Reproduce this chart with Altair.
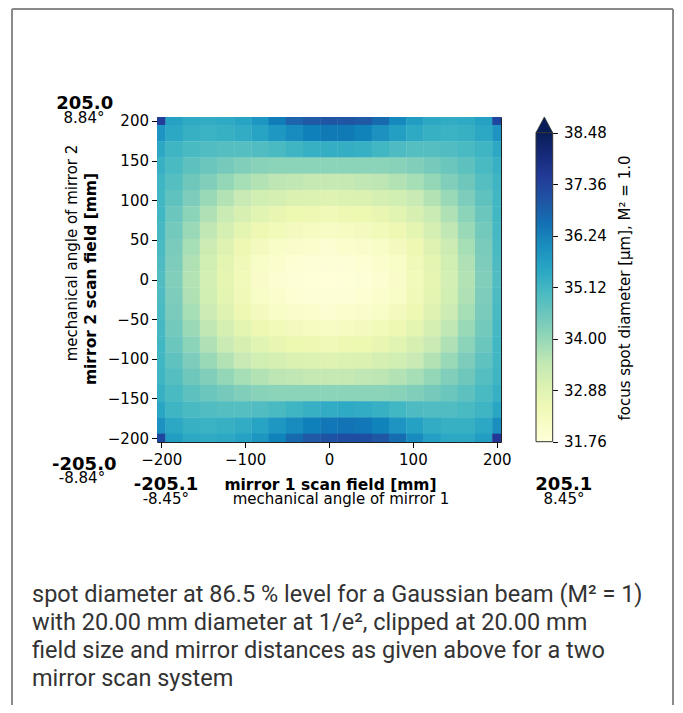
import altair as alt
import pandas as pd

# ---- data ----
x_centers = [-205.1, -184.6, -164.1, -143.6, -123.1, -102.6, -82.0, -61.5, -41.0, -20.5, 0.0,
             20.5, 41.0, 61.5, 82.0, 102.6, 123.1, 143.6, 164.1, 184.6, 205.1]
y_centers = [205.0, 184.5, 164.0, 143.5, 123.0, 102.5, 82.0, 61.5, 41.0, 20.5, 0.0,
             -20.5, -41.0, -61.5, -82.0, -102.5, -123.0, -143.5, -164.0, -184.5, -205.0]
# spot diameter [um], rows from top (y=205) to bottom (y=-205), columns from x=-205.1 to x=205.1
spot = [
    [37.5, 35.6, 35.4, 35.35, 35.4, 35.55, 35.85, 36.3, 36.7, 36.9, 37.0, 37.0, 36.9, 36.6, 36.1, 35.7, 35.45, 35.35, 35.4, 35.6, 37.3],
    [35.9, 35.45, 35.25, 35.2, 35.25, 35.35, 35.55, 35.8, 36.05, 36.25, 36.35, 36.35, 36.2, 35.95, 35.65, 35.4, 35.25, 35.2, 35.25, 35.45, 35.9],
    [35.45, 35.15, 35.0, 34.9, 34.85, 34.85, 34.9, 35.0, 35.15, 35.25, 35.3, 35.3, 35.25, 35.1, 34.95, 34.85, 34.85, 34.9, 35.0, 35.15, 35.45],
    [35.25, 35.0, 34.75, 34.55, 34.4, 34.25, 34.15, 34.1, 34.1, 34.1, 34.1, 34.1, 34.1, 34.1, 34.15, 34.25, 34.4, 34.55, 34.75, 35.0, 35.25],
    [35.15, 34.85, 34.5, 34.25, 34.0, 33.8, 33.65, 33.55, 33.5, 33.45, 33.45, 33.45, 33.5, 33.55, 33.65, 33.8, 34.0, 34.25, 34.5, 34.85, 35.15],
    [35.1, 34.7, 34.3, 33.95, 33.65, 33.4, 33.2, 33.1, 33.0, 32.95, 32.9, 32.95, 33.0, 33.1, 33.2, 33.4, 33.65, 33.95, 34.3, 34.7, 35.1],
    [35.1, 34.55, 34.1, 33.7, 33.35, 33.05, 32.85, 32.7, 32.6, 32.55, 32.5, 32.55, 32.6, 32.7, 32.85, 33.05, 33.35, 33.7, 34.1, 34.55, 35.1],
    [35.05, 34.45, 33.95, 33.5, 33.1, 32.8, 32.55, 32.4, 32.3, 32.25, 32.2, 32.25, 32.3, 32.4, 32.55, 32.8, 33.1, 33.5, 33.95, 34.45, 35.05],
    [35.0, 34.35, 33.8, 33.3, 32.9, 32.55, 32.3, 32.15, 32.05, 32.0, 31.95, 32.0, 32.05, 32.15, 32.3, 32.55, 32.9, 33.3, 33.8, 34.35, 35.0],
    [34.95, 34.3, 33.7, 33.2, 32.8, 32.45, 32.15, 32.0, 31.9, 31.85, 31.82, 31.85, 31.9, 32.0, 32.15, 32.45, 32.8, 33.2, 33.7, 34.3, 34.95],
    [34.9, 34.25, 33.65, 33.15, 32.75, 32.4, 32.1, 31.95, 31.85, 31.8, 31.78, 31.8, 31.85, 31.95, 32.1, 32.4, 32.75, 33.15, 33.65, 34.25, 34.9],
    [34.95, 34.3, 33.7, 33.2, 32.8, 32.45, 32.15, 32.0, 31.9, 31.85, 31.82, 31.85, 31.9, 32.0, 32.15, 32.45, 32.8, 33.2, 33.7, 34.3, 34.95],
    [35.0, 34.35, 33.8, 33.3, 32.9, 32.55, 32.3, 32.15, 32.05, 32.0, 31.95, 32.0, 32.05, 32.15, 32.3, 32.55, 32.9, 33.3, 33.8, 34.35, 35.0],
    [35.05, 34.45, 33.95, 33.5, 33.1, 32.8, 32.55, 32.4, 32.3, 32.25, 32.2, 32.25, 32.3, 32.4, 32.55, 32.8, 33.1, 33.5, 33.95, 34.45, 35.05],
    [35.1, 34.55, 34.1, 33.7, 33.35, 33.05, 32.85, 32.7, 32.6, 32.55, 32.5, 32.55, 32.6, 32.7, 32.85, 33.05, 33.35, 33.7, 34.1, 34.55, 35.1],
    [35.1, 34.7, 34.3, 33.95, 33.65, 33.4, 33.2, 33.1, 33.0, 32.95, 32.9, 32.95, 33.0, 33.1, 33.2, 33.4, 33.65, 33.95, 34.3, 34.7, 35.1],
    [35.15, 34.85, 34.5, 34.25, 34.0, 33.8, 33.65, 33.55, 33.5, 33.45, 33.45, 33.45, 33.5, 33.55, 33.65, 33.8, 34.0, 34.25, 34.5, 34.85, 35.15],
    [35.25, 35.0, 34.75, 34.55, 34.4, 34.25, 34.15, 34.1, 34.1, 34.1, 34.1, 34.1, 34.1, 34.1, 34.15, 34.25, 34.4, 34.55, 34.75, 35.0, 35.25],
    [35.5, 35.15, 35.0, 34.9, 34.85, 34.85, 34.9, 35.0, 35.15, 35.25, 35.35, 35.4, 35.35, 35.25, 35.1, 34.95, 34.9, 34.9, 35.0, 35.15, 35.5],
    [35.95, 35.45, 35.25, 35.2, 35.25, 35.35, 35.55, 35.8, 36.05, 36.25, 36.4, 36.45, 36.4, 36.2, 35.9, 35.6, 35.35, 35.25, 35.25, 35.45, 36.0],
    [37.3, 35.7, 35.45, 35.4, 35.45, 35.6, 35.85, 36.2, 36.6, 36.9, 37.05, 37.15, 37.15, 36.95, 36.55, 36.05, 35.65, 35.45, 35.45, 35.7, 37.6],
]
x_ticks = [-200, -100, 0, 100, 200]
y_ticks = [-200, -150, -100, -50, 0, 50, 100, 150, 200]
cbar_ticks = [31.76, 32.88, 34.00, 35.12, 36.24, 37.36, 38.48]
cbar_min, cbar_max = 31.76, 38.48
# YlGnBu colour map stops (matplotlib) spread over the colour bar range
cmap_stops = [31.76, 32.60, 33.44, 34.28, 35.12, 35.96, 36.80, 37.64, 38.48]
cmap_colors = ["#ffffd9", "#edf8b1", "#c7e9b4", "#7fcdbb", "#41b6c4",
               "#1d91c0", "#225ea8", "#253494", "#081d58"]
x_extent = [-205.1, 205.1]
y_extent = [-205.0, 205.0]
caption = [
    "spot diameter at 86.5 % level for a Gaussian beam (M\u00b2 = 1)",
    "with 20.00 mm diameter at 1/e\u00b2, clipped at 20.00  mm",
    "field size and mirror distances as given above for a two",
    "mirror scan system",
]

rows = []
for j, yc in enumerate(y_centers):
    for i, xc in enumerate(x_centers):
        rows.append({"x0": xc - 10.5, "x1": xc + 10.5, "y0": yc - 10.5, "y1": yc + 10.5, "d": spot[j][i]})
df = pd.DataFrame(rows)

FONT = "DejaVu Sans"

heat = alt.Chart(df).mark_rect(clip=True).encode(
    x=alt.X("x0:Q", scale=alt.Scale(domain=x_extent, nice=False, zero=False),
            axis=alt.Axis(values=x_ticks, title=None, labelPadding=5)),
    x2="x1:Q",
    y=alt.Y("y0:Q", scale=alt.Scale(domain=y_extent, nice=False, zero=False),
            axis=alt.Axis(values=y_ticks, title=None, labelPadding=3)),
    y2="y1:Q",
    color=alt.Color("d:Q",
                    scale=alt.Scale(domain=cmap_stops, range=cmap_colors, clamp=True),
                    legend=alt.Legend(orient="none", legendX=379, legendY=15.7, direction="vertical",
                                      gradientLength=309, gradientThickness=16.7, title=None,
                                      labelOpacity=0, padding=0,
                                      gradientStrokeColor="#333333", gradientStrokeWidth=1)),
)

cbar = alt.Chart(alt.Data(values=[{"v": cbar_max}])).mark_point(
    shape="M-1,0L0,-1.88L1,0Z", filled=True, size=279, color="#081d58",
    stroke="#333333", strokeWidth=0.8, opacity=1,
).encode(
    x=alt.value(387.35),
    y=alt.Y("v:Q", scale=alt.Scale(domain=[cbar_min, cbar_max], range=[324.7, 15.7], nice=False, zero=False),
            axis=alt.Axis(orient="right", offset=51.7, values=cbar_ticks, format=".2f", tickSize=4.7,
                          labelPadding=6, title=None, labelAlign="left")),
)


def txt(s, px, py, size, bold=False, align="center", angle=0, font=FONT, color="black", lineHeight=None):
    kw = dict(text=s, fontSize=size, font=font, fontWeight="bold" if bold else "normal",
              align=align, baseline="alphabetic", color=color)
    if angle:
        kw["angle"] = angle
    if lineHeight:
        kw["lineHeight"] = lineHeight
    return alt.Chart(alt.Data(values=[{}])).mark_text(**kw).encode(x=alt.value(px), y=alt.value(py))


texts = [
    txt("205.0", -72.3, -7.7, 18, bold=True),
    txt("8.84\u00b0", -73, 5.7, 15),
    txt("-205.0", -72.7, 353, 18, bold=True),
    txt("-8.84\u00b0", -75, 365.5, 15),
    txt("-205.1", 9, 373, 18, bold=True),
    txt("-8.45\u00b0", 8.8, 386.5, 15),
    txt("205.1", 406.8, 373, 18, bold=True),
    txt("8.45\u00b0", 407, 386.5, 15),
    txt("mirror 1 scan field [mm]", 173.5, 373, 15.5, bold=True),
    txt("mechanical angle of mirror 1", 184, 387, 15),
    txt("mirror 2 scan field [mm]", -61, 162, 15.5, bold=True, angle=270),
    txt("mechanical angle of mirror 2", -80.5, 136, 15, angle=270),
    txt("focus spot diameter [\u03bcm], M\u00b2 = 1.0", 473, 171, 15, angle=270),
    txt(caption, -125, 485, 23.5, align="left", font="Roboto", color="#333333", lineHeight=28),
]


def rule(**enc):
    return alt.Chart(alt.Data(values=[{}])).mark_rule(color="#8a8a8a", strokeWidth=2).encode(
        **{k: alt.value(v) for k, v in enc.items()})


borders = [
    rule(x=-145, y=-108, y2=588),
    rule(x=-145, x2=516, y=-108),
    rule(x=516, y=-108, y2=588),
]

chart = alt.layer(heat, cbar, *texts, *borders).resolve_scale(y="independent").properties(
    width=344, height=325,
    autosize=alt.AutoSizeParams(type="none"),
    padding={"left": 149, "top": 109, "right": 174, "bottom": 263},
    background="white",
).configure_view(stroke="#222222", strokeWidth=1).configure_axis(
    labelFont=FONT, labelFontSize=15, labelColor="black", tickColor="black", tickWidth=1,
    tickSize=5.5, domain=False, grid=False,
)

chart.save("out.html", embed_options={"renderer": "svg", "actions": False})
